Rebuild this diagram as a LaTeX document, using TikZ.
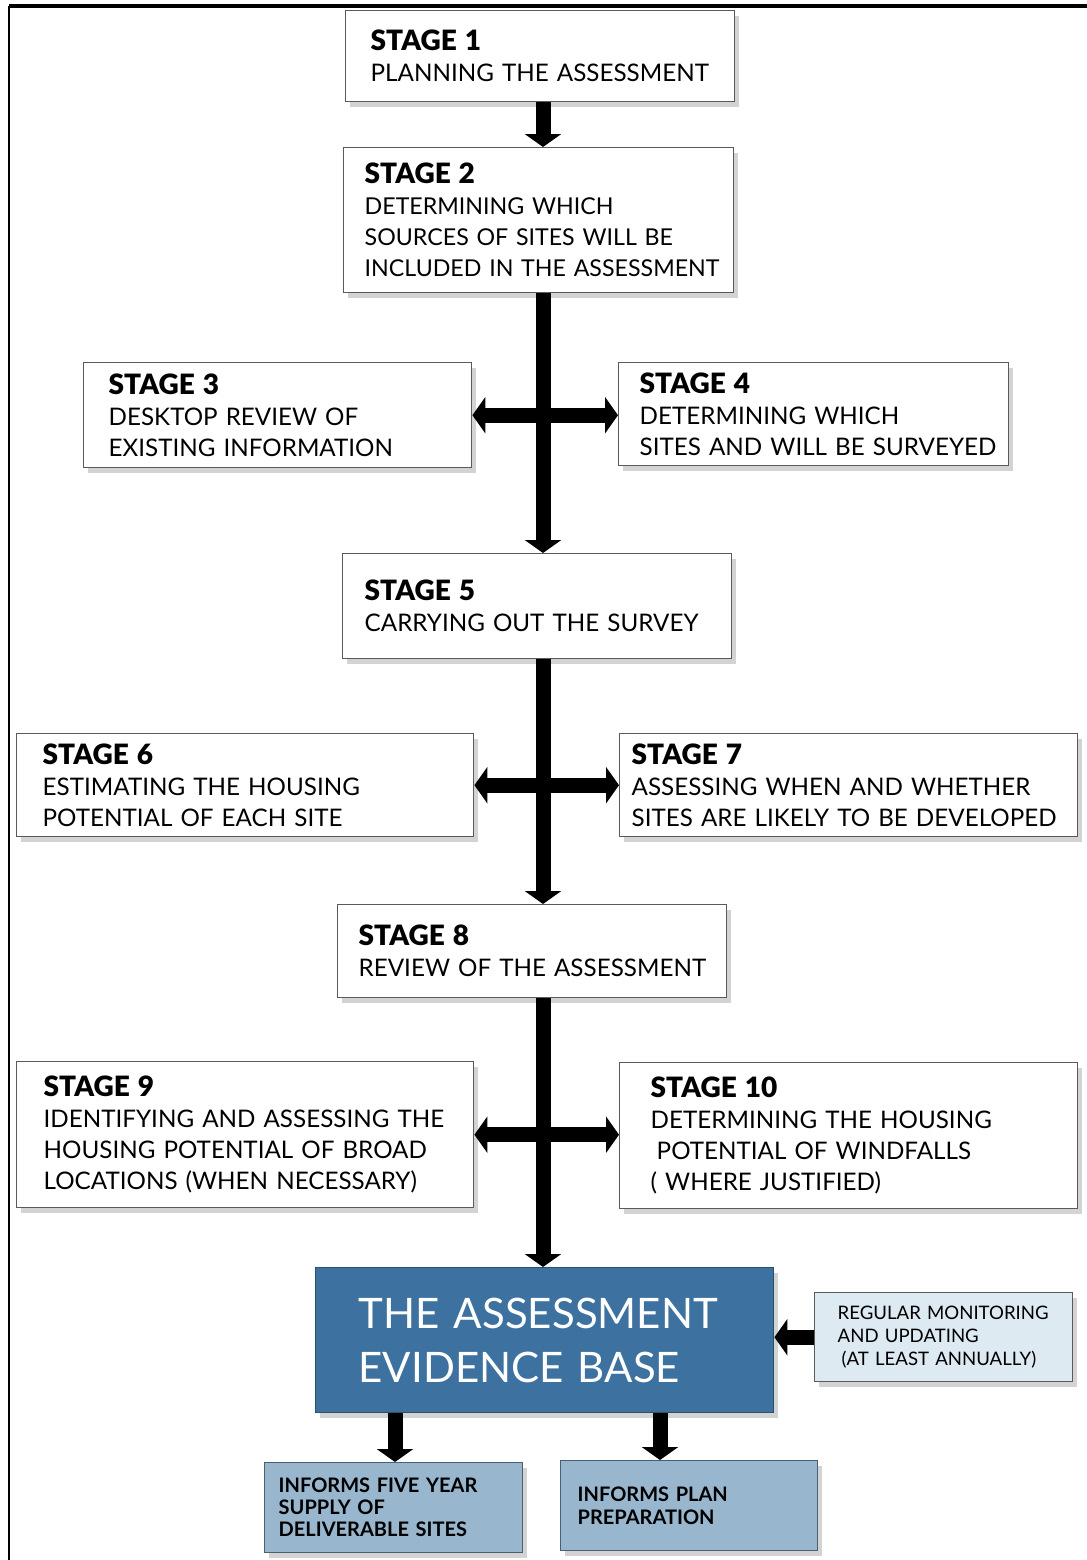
\documentclass[tikz,border=0pt]{standalone}
\usepackage{fontspec}
\setmainfont{Lato}
\IfFontExistsTF{Lato Black}{\newfontfamily\headfont{Lato Black}}{\newfontfamily\headfont{Lato}[UprightFeatures={FakeBold=1.5}]}
\usetikzlibrary{arrows.meta,shadows}

\definecolor{basefill}{HTML}{3D71A0}
\definecolor{basedraw}{HTML}{2A4F70}
\definecolor{monfill}{HTML}{DDEAF2}
\definecolor{infofill}{HTML}{98B6CD}
\definecolor{infodraw}{HTML}{4A5F70}
\definecolor{boxdraw}{HTML}{5A5A5A}

\newcommand{\stg}[1]{{\fontsize{14}{15.5}\headfont #1}}

\tikzset{
  stagebox/.style={draw=boxdraw, fill=white, line width=0.7pt, anchor=north west,
    align=left, inner ysep=0pt, font=\fontsize{12.1}{15.5}\selectfont,
    execute at begin node={\rightskip=-40pt plus 1fil\relax\hyphenpenalty=10000\relax},
    drop shadow={shadow xshift=2pt, shadow yshift=-2.5pt, opacity=0.35}},
  bigarrow/.style={line width=7.5pt, -{Triangle[width=18pt,length=6.5pt]}},
  bigboth/.style={line width=7.5pt, {Triangle[width=18pt,length=6.5pt]}-{Triangle[width=18pt,length=6.5pt]}},
}

\begin{document}
\begin{tikzpicture}[x=0.5pt,y=-0.5pt]
\useasboundingbox (0,0) rectangle (1087,1560);
%\draw [help lines,step=50] (0,0) grid (1087,1560);

% frame
\draw [line width=0.8pt] (9,6)--(9,1560);
\draw [line width=1.6pt] (9,6)--(1087,6);

\coordinate (spine) at (543,0);
\coordinate (fivex) at (395,0);
\coordinate (planx) at (660,0);

% stages
\node [stagebox, minimum width=194.5pt, minimum height=45.5pt, inner xsep=12.5pt, text width=169.5pt] (s1) at (345,10)
  {\stg{STAGE 1}\\PLANNING THE ASSESSMENT};
\node [stagebox, minimum width=195pt, minimum height=72.5pt, inner xsep=10.5pt, text width=174pt,
  font=\fontsize{11.6}{15.5}\selectfont] (s2) at (343,147)
  {\stg{STAGE 2}\\DETERMINING WHICH\\SOURCES OF SITES WILL BE\\INCLUDED IN THE ASSESSMENT};
\node [stagebox, minimum width=194pt, minimum height=52.5pt, inner xsep=12.5pt, text width=169pt] (s3) at (83,362)
  {\stg{STAGE 3}\\DESKTOP REVIEW OF\\EXISTING INFORMATION};
\node [stagebox, minimum width=195pt, minimum height=51.5pt, inner xsep=10.5pt, text width=174pt] (s4) at (618,362)
  {\stg{STAGE 4}\\DETERMINING WHICH\\SITES AND WILL BE SURVEYED};
\node [stagebox, minimum width=194.5pt, minimum height=52.5pt, inner xsep=11pt, text width=172.5pt] (s5) at (342,553)
  {\stg{STAGE 5}\\CARRYING OUT THE SURVEY};
\node [stagebox, minimum width=228.5pt, minimum height=51.5pt, inner xsep=13pt, text width=202.5pt] (s6) at (16,733)
  {\stg{STAGE 6}\\ESTIMATING THE HOUSING\\POTENTIAL OF EACH SITE};
\node [stagebox, minimum width=229pt, minimum height=51.5pt, inner xsep=6pt, text width=217pt] (s7) at (619,733)
  {\stg{STAGE 7}\\ASSESSING WHEN AND WHETHER\\SITES ARE LIKELY TO BE DEVELOPED};
\node [stagebox, minimum width=194.5pt, minimum height=46.5pt, inner xsep=10.5pt, text width=173.5pt] (s8) at (337,904)
  {\stg{STAGE 8}\\REVIEW OF THE ASSESSMENT};
\node [stagebox, minimum width=228.5pt, minimum height=73pt, inner xsep=13.5pt, text width=201.5pt] (s9) at (16,1061)
  {\stg{STAGE 9}\\IDENTIFYING AND ASSESSING THE\\HOUSING POTENTIAL OF BROAD\\LOCATIONS (WHEN NECESSARY)};
\node [stagebox, minimum width=229pt, minimum height=73pt, inner xsep=15.5pt, text width=198pt] (s10) at (619,1062)
  {\stg{STAGE 10}\\DETERMINING THE HOUSING\\\hspace{3pt}POTENTIAL OF WINDFALLS\\( WHERE JUSTIFIED)};

% evidence base and outputs
\node [stagebox, fill=basefill, draw=basedraw, text=white, minimum width=229pt, minimum height=72.5pt,
  inner xsep=21.5pt, text width=186pt, font=\fontsize{21}{27}\selectfont] (base) at (315,1267)
  {THE ASSESSMENT\\EVIDENCE BASE};
\node [stagebox, fill=monfill, minimum width=129pt, minimum height=44.5pt, inner xsep=11.5pt, text width=106pt,
  font=\fontsize{9.3}{11.3}\selectfont] (mon) at (814,1292)
  {REGULAR MONITORING\\AND UPDATING\\\hspace{2pt}(AT LEAST ANNUALLY)};
\node [stagebox, fill=infofill, draw=infodraw, minimum width=129pt, minimum height=45pt, inner xsep=7pt, text width=115pt,
  font=\fontsize{10}{11}\selectfont\bfseries] (five) at (264,1462)
  {INFORMS FIVE YEAR\\SUPPLY OF\\DELIVERABLE SITES};
\node [stagebox, fill=infofill, draw=infodraw, minimum width=128.5pt, minimum height=45pt, inner xsep=8.5pt, text width=111.5pt,
  font=\fontsize{10}{11.5}\selectfont\bfseries] (plan) at (560,1460)
  {INFORMS PLAN\\PREPARATION};

% arrows
\draw [bigarrow] (s1.south -| spine) -- (s2.north -| spine);
\draw [bigarrow] (s2.south -| spine) -- (s5.north -| spine);
\draw [bigboth] (s3.east) -- (s3.east -| s4.west);
\draw [bigarrow] (s5.south -| spine) -- (s8.north -| spine);
\draw [bigboth] (s6.east) -- (s6.east -| s7.west);
\draw [bigarrow] (s8.south -| spine) -- (base.north -| spine);
\draw [bigboth] (s9.east) -- (s9.east -| s10.west);
\draw [bigarrow] (mon.west) -- (base.east |- mon.west);
\draw [bigarrow] (base.south -| fivex) -- (five.north -| fivex);
\draw [bigarrow] (base.south -| planx) -- (plan.north -| planx);
\end{tikzpicture}
\end{document}
